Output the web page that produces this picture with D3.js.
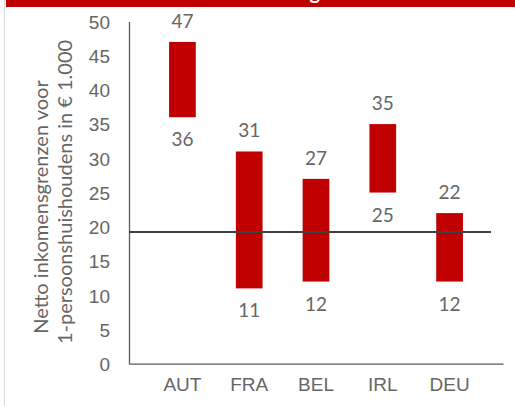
<!DOCTYPE html>
<html lang="nl">
<head>
<meta charset="UTF-8">
<title>Netto inkomensgrenzen</title>
<script src="https://d3js.org/d3.v7.min.js"></script>
<style>
    body { margin: 0; background: #fff; }
    svg { display: block; font-family: Lato, "Open Sans", sans-serif; }
    .tick text { fill: #666; font-size: 19px; }
</style>
</head>
<body>
<div id="chart"></div>
<script>
// data
const countries = ["AUT", "FRA", "BEL", "IRL", "DEU"];
const lowValues = [36, 11, 12, 25, 12];
const highValues = [47, 31, 27, 35, 22];
const refValue = 19.25;
const yTicks = [0, 5, 10, 15, 20, 25, 30, 35, 40, 45, 50];

const width = 515, height = 406;
const margin = { left: 129, right: 12, top: 21.4, bottom: 42.3 };

const svg = d3.select("#chart").append("svg")
    .attr("width", width)
    .attr("height", height);

// frame remnants: light border on the left, red title band on top
svg.append("line")
    .attr("x1", 4.5).attr("x2", 4.5)
    .attr("y1", 0).attr("y2", height)
    .attr("stroke", "#d9d9d9");

svg.append("rect")
    .attr("x", 6).attr("y", 0)
    .attr("width", width - 6).attr("height", 7)
    .attr("fill", "#c00000");

// title sits mostly above the visible area, as in the reference
svg.append("text")
    .attr("x", 492).attr("y", -1)
    .attr("text-anchor", "end")
    .attr("fill", "#fff")
    .attr("font-size", 20)
    .attr("font-weight", "bold")
    .text("Netto inkomensgrenzen sociale huur");

const x = d3.scaleBand()
    .domain(countries)
    .range([margin.left, width - margin.right])
    .padding(0.6);

const y = d3.scaleLinear()
    .domain([0, 50])
    .range([height - margin.bottom, margin.top]);

// y axis
const yAxis = svg.append("g")
    .attr("transform", `translate(${margin.left},0)`)
    .call(d3.axisLeft(y).tickValues(yTicks).tickSize(0).tickPadding(19));
yAxis.select(".domain").attr("stroke", "#595959").attr("stroke-width", 1.3);
yAxis.selectAll(".tick text").attr("dy", "0.36em");

// x axis
const xAxis = svg.append("g")
    .attr("transform", `translate(0,${y(0)})`)
    .call(d3.axisBottom(x).tickSize(0).tickPadding(14));
xAxis.select(".domain").attr("stroke", "#595959").attr("stroke-width", 1.3);

// bars (low to high)
svg.append("g").selectAll("rect")
    .data(countries)
    .join("rect")
    .attr("x", d => x(d))
    .attr("width", x.bandwidth())
    .attr("y", (d, i) => y(highValues[i]))
    .attr("height", (d, i) => y(lowValues[i]) - y(highValues[i]))
    .attr("fill", "#c00000");

// reference line
svg.append("line")
    .attr("x1", margin.left)
    .attr("x2", 491)
    .attr("y1", y(refValue))
    .attr("y2", y(refValue))
    .attr("stroke", "#404040")
    .attr("stroke-width", 2);

// value labels
const labels = svg.append("g")
    .attr("fill", "#666")
    .attr("font-size", 19)
    .attr("text-anchor", "middle");

labels.selectAll(".hi")
    .data(countries)
    .join("text")
    .attr("class", "hi")
    .attr("x", d => x(d) + x.bandwidth() / 2)
    .attr("y", (d, i) => y(highValues[i]) - 14)
    .text((d, i) => highValues[i]);

labels.selectAll(".lo")
    .data(countries)
    .join("text")
    .attr("class", "lo")
    .attr("x", d => x(d) + x.bandwidth() / 2)
    .attr("y", (d, i) => y(lowValues[i]) + 29)
    .text((d, i) => lowValues[i]);

// y axis title, two lines
const title = svg.append("g")
    .attr("fill", "#666")
    .attr("font-size", 20)
    .attr("text-anchor", "middle");

title.append("text")
    .attr("transform", "translate(48,207) rotate(-90)")
    .text("Netto inkomensgrenzen voor");

title.append("text")
    .attr("transform", "translate(72,192) rotate(-90)")
    .text("1-persoonshuishoudens in € 1.000");
</script>
</body>
</html>
